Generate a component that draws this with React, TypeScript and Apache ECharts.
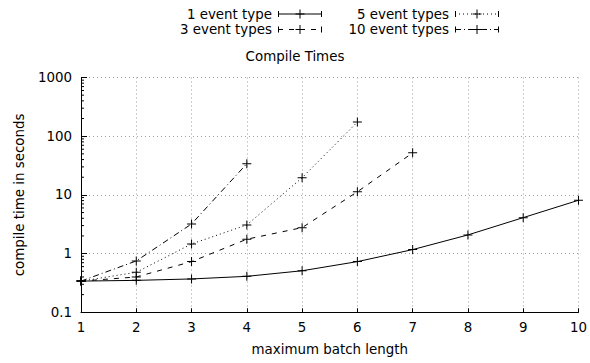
import React, { useEffect, useRef } from "react";
import * as echarts from "echarts";

const batchLengths = [1, 2, 3, 4, 5, 6, 7, 8, 9, 10];
const oneEventType = [0.34, 0.35, 0.37, 0.41, 0.51, 0.73, 1.17, 2.08, 4.1, 8.1];
const threeEventTypes = [0.34, 0.4, 0.73, 1.76, 2.77, 11.3, 52];
const fiveEventTypes = [0.34, 0.48, 1.46, 3.08, 19.6, 174];
const tenEventTypes = [0.34, 0.75, 3.2, 34];
const seriesNames = ["1 event type", "3 event types", "5 event types", "10 event types"];
const yMinorTicks = [
  0.2, 0.3, 0.4, 0.5, 0.6, 0.7, 0.8, 0.9,
  2, 3, 4, 5, 6, 7, 8, 9,
  20, 30, 40, 50, 60, 70, 80, 90,
  200, 300, 400, 500, 600, 700, 800, 900,
];

const FONT = "DejaVu Sans";
const FS = 13.4;
const PLUS = "path://M4,0H5V4H9V5H5V9H4V5H0V4H4Z";
const dashes: (number[] | null)[] = [null, [5, 6], [1, 3], [6, 3, 1, 3]];

function legendItem(i: number, textRight: number, y: number) {
  const x1 = textRight + 6;
  const x2 = x1 + 44;
  const mid = (x1 + x2) / 2;
  const dash = dashes[i];
  return [
    {
      type: "text",
      style: {
        text: seriesNames[i],
        x: textRight,
        y,
        align: "right",
        verticalAlign: "middle",
        font: `${FS}px '${FONT}'`,
        fill: "#000",
      },
    },
    {
      type: "line",
      shape: { x1, y1: y, x2, y2: y },
      style: { stroke: "#000", lineWidth: 1, lineDash: dash || undefined },
    },
    { type: "line", shape: { x1: x1 + 0.5, y1: y - 3, x2: x1 + 0.5, y2: y + 3 }, style: { stroke: "#000", lineWidth: 1 } },
    { type: "line", shape: { x1: x2 - 0.5, y1: y - 3, x2: x2 - 0.5, y2: y + 3 }, style: { stroke: "#000", lineWidth: 1 } },
    { type: "line", shape: { x1: mid - 4.5, y1: y, x2: mid + 4.5, y2: y }, style: { stroke: "#000", lineWidth: 1 } },
    { type: "line", shape: { x1: mid, y1: y - 4.5, x2: mid, y2: y + 4.5 }, style: { stroke: "#000", lineWidth: 1 } },
  ];
}

export default function App() {
  const ref = useRef<HTMLDivElement>(null);
  useEffect(() => {
    if (!ref.current) return;
    const chart = echarts.init(ref.current, null, { renderer: "svg" });
    const all = [oneEventType, threeEventTypes, fiveEventTypes, tenEventTypes];
    const lineSeries = all.map((vals, i) => ({
      name: seriesNames[i],
      type: "line",
      data: vals.map((v, j) => [batchLengths[j], v]),
      symbol: PLUS,
      symbolSize: 9,
      showSymbol: true,
      itemStyle: { color: "#000" },
      lineStyle: { color: "#000", width: 1, type: dashes[i] || "solid" },
      z: 3,
    }));
    chart.setOption({
      animation: false,
      textStyle: { fontFamily: FONT },
      title: {
        text: "Compile Times",
        left: "center",
        top: 45,
        textStyle: { fontFamily: FONT, fontSize: FS, fontWeight: "normal", color: "#000" },
      },
      grid: { left: 81, right: 11, top: 77.5, bottom: 50.7 },
      xAxis: {
        type: "value",
        min: 1,
        max: 10,
        interval: 1,
        name: "maximum batch length",
        nameLocation: "middle",
        nameGap: 31,
        nameTextStyle: { fontFamily: FONT, fontSize: FS, color: "#000" },
        axisLine: { show: true, onZero: false, lineStyle: { color: "#000", width: 1 } },
        axisTick: { show: true, inside: true, length: 4, lineStyle: { color: "#000" } },
        axisLabel: { fontFamily: FONT, fontSize: FS, color: "#000", margin: 9 },
        splitLine: { show: true, lineStyle: { color: "#a0a0a0", type: [1, 3], width: 1 } },
      },
      yAxis: {
        type: "log",
        logBase: 10,
        min: 0.1,
        max: 1000,
        name: "compile time in seconds",
        nameLocation: "middle",
        nameGap: 55,
        nameTextStyle: { fontFamily: FONT, fontSize: FS, color: "#000" },
        axisLine: { show: true, lineStyle: { color: "#000", width: 1 } },
        axisTick: { show: true, inside: true, length: 6, lineStyle: { color: "#000" } },
        axisLabel: {
          fontFamily: FONT,
          fontSize: FS,
          color: "#000",
          margin: 9,
          formatter: (v: number) => String(Math.round(v * 10) / 10),
        },
        splitLine: { show: true, lineStyle: { color: "#a0a0a0", type: [1, 3], width: 1 } },
      },
      graphic: [
        ...legendItem(0, 272, 14),
        ...legendItem(1, 272, 29.5),
        ...legendItem(2, 449, 14),
        ...legendItem(3, 449, 29.5),
      ],
      series: [
        {
          type: "custom",
          silent: true,
          clip: false,
          data: yMinorTicks.map((v) => [1, v]),
          renderItem: (params: any, api: any) => {
            const p = api.coord([api.value(0), api.value(1)]);
            return {
              type: "line",
              shape: { x1: p[0], y1: p[1], x2: p[0] + 3, y2: p[1] },
              style: { stroke: "#000", lineWidth: 1 },
            };
          },
          z: 2,
        },
        ...lineSeries,
      ],
    });
    return () => chart.dispose();
  }, []);
  return <div ref={ref} style={{ width: 590, height: 363, position: "absolute", left: 0, top: 0 }} />;
}
